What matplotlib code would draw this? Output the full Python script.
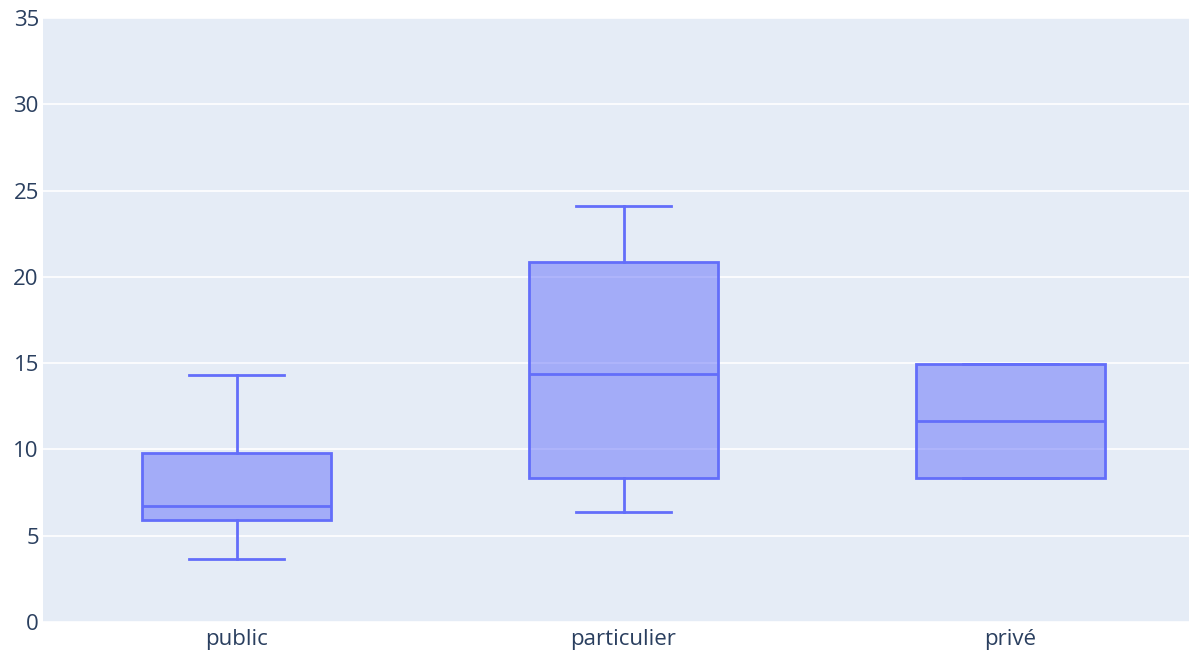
import matplotlib
matplotlib.use("Agg")
import matplotlib.pyplot as plt

plt.rcParams['font.family'] = ['Open Sans', 'DejaVu Sans']

categories = ["public", "particulier", "privé"]
whisker_low = [3.65, 6.37, 8.34]
q1 = [5.91, 8.34, 8.34]
median = [6.72, 14.37, 11.65]
q3 = [9.79, 20.86, 14.95]
whisker_high = [14.31, 24.1, 14.95]

line_color = "#636efa"
text_color = "#2a3f5f"

stats = []
for i, name in enumerate(categories):
    stats.append({"label": name, "whislo": whisker_low[i], "q1": q1[i], "med": median[i],
                  "q3": q3[i], "whishi": whisker_high[i], "fliers": []})

fig = plt.figure(figsize=(11.89, 6.51), dpi=100)
# plot area runs a little past the right edge of the picture, as in the reference
ax = fig.add_axes([43 / 1189, 1 - 622 / 651, 1161 / 1189, (622 - 18) / 651])
ax.set_facecolor("#E5ECF6")

ax.bxp(stats, positions=range(len(categories)), widths=0.49, patch_artist=True,
       showfliers=False,
       boxprops=dict(facecolor=(0.388, 0.431, 0.98, 0.5), edgecolor=line_color, linewidth=2),
       medianprops=dict(color=line_color, linewidth=2),
       whiskerprops=dict(color=line_color, linewidth=2),
       capprops=dict(color=line_color, linewidth=2),
       capwidths=0.245)

ax.set_xlim(-0.5, 2.5)
ax.set_ylim(0, 35)
ax.set_yticks(range(0, 36, 5))
ax.set_xticks(range(len(categories)))
ax.set_xticklabels(categories)
ax.grid(axis="y", color="white", linewidth=1.2)
ax.set_axisbelow(True)
for s in ax.spines.values():
    s.set_visible(False)
ax.tick_params(length=0, labelsize=16, colors=text_color)
ax.tick_params(axis="y", pad=3)
ax.tick_params(axis="x", pad=5)

fig.savefig("out.png", dpi=100)
